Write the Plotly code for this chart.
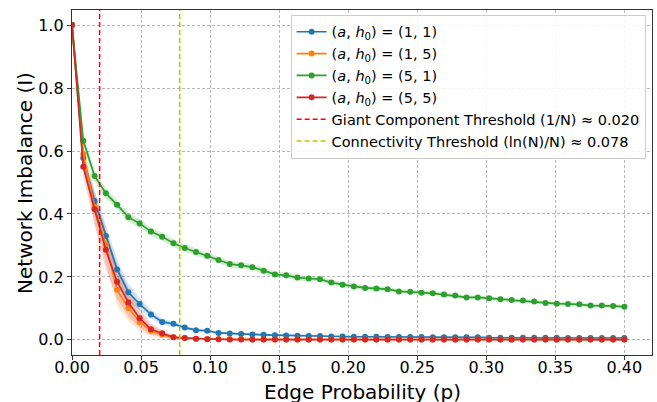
import numpy as np
import plotly.graph_objects as go

p_values = list(np.linspace(0, 0.4, 50))

mean_1_1 = [1.0, 0.578, 0.441, 0.330, 0.224, 0.151, 0.114, 0.081, 0.057, 0.051,
            0.039, 0.031, 0.029, 0.022, 0.020, 0.019, 0.017, 0.016, 0.015, 0.014,
            0.013, 0.012, 0.012, 0.011, 0.011, 0.010, 0.010, 0.010, 0.009, 0.009,
            0.009, 0.009, 0.008, 0.008, 0.008, 0.008, 0.008, 0.007, 0.007, 0.007,
            0.007, 0.007, 0.007, 0.007, 0.006, 0.006, 0.006, 0.006, 0.006, 0.006]
std_1_1 = [0.0, 0.020, 0.032, 0.035, 0.032, 0.027, 0.020, 0.014, 0.010, 0.008,
           0.006, 0.005, 0.005, 0.004, 0.004, 0.004, 0.003, 0.003, 0.003, 0.003,
           0.003, 0.003, 0.003, 0.003, 0.003, 0.003, 0.003, 0.003, 0.003, 0.003,
           0.003, 0.003, 0.003, 0.003, 0.003, 0.003, 0.003, 0.003, 0.003, 0.003,
           0.003, 0.003, 0.003, 0.003, 0.003, 0.003, 0.003, 0.003, 0.003, 0.003]

mean_1_5 = [1.0, 0.590, 0.423, 0.302, 0.159, 0.101, 0.057, 0.029, 0.016, 0.008,
            0.006, 0.004, 0.003, 0.002, 0.002, 0.002, 0.001, 0.001, 0.001, 0.001,
            0.001, 0.001, 0.001, 0.001, 0.001, 0.001, 0.001, 0.001, 0.001, 0.001,
            0.001, 0.001, 0.001, 0.001, 0.001, 0.001, 0.001, 0.001, 0.001, 0.001,
            0.001, 0.001, 0.001, 0.001, 0.001, 0.001, 0.001, 0.001, 0.001, 0.001]
std_1_5 = [0.0, 0.030, 0.050, 0.055, 0.050, 0.040, 0.028, 0.016, 0.010, 0.006,
           0.004, 0.003, 0.002, 0.002, 0.002, 0.001, 0.001, 0.001, 0.001, 0.001,
           0.001, 0.001, 0.001, 0.001, 0.001, 0.001, 0.001, 0.001, 0.001, 0.001,
           0.001, 0.001, 0.001, 0.001, 0.001, 0.001, 0.001, 0.001, 0.001, 0.001,
           0.001, 0.001, 0.001, 0.001, 0.001, 0.001, 0.001, 0.001, 0.001, 0.001]

mean_5_1 = [1.0, 0.633, 0.521, 0.466, 0.429, 0.390, 0.370, 0.344, 0.328, 0.307,
            0.292, 0.279, 0.267, 0.254, 0.241, 0.237, 0.231, 0.220, 0.208, 0.205,
            0.198, 0.195, 0.193, 0.182, 0.175, 0.170, 0.165, 0.163, 0.161, 0.154,
            0.153, 0.150, 0.148, 0.144, 0.141, 0.135, 0.135, 0.132, 0.129, 0.127,
            0.125, 0.122, 0.117, 0.115, 0.114, 0.113, 0.109, 0.109, 0.108, 0.105]
std_5_1 = [0.0, 0.020, 0.018, 0.016, 0.015, 0.015, 0.014, 0.014, 0.013, 0.013,
           0.012, 0.012, 0.011, 0.011, 0.010, 0.010, 0.010, 0.010, 0.009, 0.009,
           0.009, 0.009, 0.009, 0.008, 0.008, 0.008, 0.008, 0.008, 0.007, 0.007,
           0.007, 0.007, 0.007, 0.007, 0.007, 0.006, 0.006, 0.006, 0.006, 0.006,
           0.006, 0.006, 0.006, 0.006, 0.006, 0.006, 0.006, 0.006, 0.006, 0.006]

mean_5_5 = [1.0, 0.550, 0.415, 0.286, 0.185, 0.119, 0.069, 0.034, 0.021, 0.008,
            0.006, 0.004, 0.002, 0.002, 0.001, 0.001, 0.001, 0.001, 0.001, 0.001,
            0.001, 0.001, 0.001, 0.001, 0.001, 0.001, 0.001, 0.001, 0.001, 0.001,
            0.001, 0.001, 0.001, 0.001, 0.001, 0.001, 0.001, 0.001, 0.001, 0.001,
            0.001, 0.001, 0.001, 0.001, 0.001, 0.001, 0.001, 0.001, 0.001, 0.001]
std_5_5 = [0.0, 0.030, 0.050, 0.060, 0.055, 0.045, 0.030, 0.018, 0.010, 0.006,
           0.004, 0.003, 0.002, 0.002, 0.002, 0.001, 0.001, 0.001, 0.001, 0.001,
           0.001, 0.001, 0.001, 0.001, 0.001, 0.001, 0.001, 0.001, 0.001, 0.001,
           0.001, 0.001, 0.001, 0.001, 0.001, 0.001, 0.001, 0.001, 0.001, 0.001,
           0.001, 0.001, 0.001, 0.001, 0.001, 0.001, 0.001, 0.001, 0.001, 0.001]

series_labels = ["(<i>a</i>, <i>h</i><sub>0</sub>) = (1, 1)",
                 "(<i>a</i>, <i>h</i><sub>0</sub>) = (1, 5)",
                 "(<i>a</i>, <i>h</i><sub>0</sub>) = (5, 1)",
                 "(<i>a</i>, <i>h</i><sub>0</sub>) = (5, 5)"]
series_means = [mean_1_1, mean_1_5, mean_5_1, mean_5_5]
series_stds = [std_1_1, std_1_5, std_5_1, std_5_5]
colors = ["#1f77b4", "#ff7f0e", "#2ca02c", "#d62728"]
fill_colors = ["rgba(31,119,180,0.2)", "rgba(255,127,14,0.2)",
               "rgba(44,160,44,0.2)", "rgba(214,39,40,0.2)"]

giant_threshold = 0.020
connect_threshold = 0.078
threshold_labels = ["Giant Component Threshold (1/N) ≈ 0.020",
                    "Connectivity Threshold (ln(N)/N) ≈ 0.078"]
x_title = "Edge Probability (p)"
y_title = "Network Imbalance (I)"
y_range = [-0.048, 1.048]
x_range = [0.0, 0.42]
x_ticks = [0, 0.05, 0.1, 0.15, 0.2, 0.25, 0.3, 0.35, 0.4]
y_ticks = [0, 0.2, 0.4, 0.6, 0.8, 1.0]

fig = go.Figure()

for lab, m, s, c, fc in zip(series_labels, series_means, series_stds, colors, fill_colors):
    m = np.array(m)
    s = np.array(s)
    fig.add_trace(go.Scatter(x=p_values, y=list(m + s), mode="lines",
                             line=dict(width=0, color=fc), showlegend=False,
                             hoverinfo="skip"))
    fig.add_trace(go.Scatter(x=p_values, y=list(m - s), mode="lines",
                             line=dict(width=0, color=fc), fill="tonexty",
                             fillcolor=fc, showlegend=False, hoverinfo="skip"))

for lab, m, c in zip(series_labels, series_means, colors):
    fig.add_trace(go.Scatter(x=p_values, y=m, mode="lines+markers", name=lab,
                             line=dict(color=c, width=1.7),
                             marker=dict(color=c, size=6)))

fig.add_trace(go.Scatter(x=[giant_threshold, giant_threshold], y=y_range, mode="lines",
                         name=threshold_labels[0],
                         line=dict(color="#ff0000", width=1.5, dash="5px,3px")))
fig.add_trace(go.Scatter(x=[connect_threshold, connect_threshold], y=y_range, mode="lines",
                         name=threshold_labels[1],
                         line=dict(color="#bfbf00", width=1.5, dash="5px,3px")))

axis_common = dict(
    showline=True, linecolor="#333333", linewidth=1.3, mirror=True,
    ticks="outside", ticklen=4, tickcolor="#333333",
    showgrid=True, gridcolor="rgba(160,160,160,0.75)", griddash="3px,2px", gridwidth=0.8,
    zeroline=False, automargin=False,
    tickfont=dict(family="DejaVu Sans", size=16, color="black"),
)

fig.update_layout(
    width=657, height=402,
    margin=dict(l=72, r=5, t=10, b=47),
    plot_bgcolor="white", paper_bgcolor="white",
    font=dict(family="DejaVu Sans", color="black"),
    xaxis=dict(range=x_range, tickvals=x_ticks, tickformat=".2f",
               ticklabelstandoff=-6, **axis_common),
    yaxis=dict(range=y_range, tickvals=y_ticks, tickformat=".1f", **axis_common),
    legend=dict(x=0.989, y=0.986, xanchor="right", yanchor="top",
                bgcolor="rgba(255,255,255,0.85)", bordercolor="#cccccc", borderwidth=1,
                font=dict(family="DejaVu Sans", size=14.5), tracegroupgap=0,
                traceorder="normal", itemwidth=30),
    showlegend=True,
    annotations=[
        dict(text=x_title, xref="paper", yref="paper", x=0.5, y=-0.108,
             xanchor="center", yanchor="middle", showarrow=False,
             font=dict(family="DejaVu Sans", size=20, color="black")),
        dict(text=y_title, xref="paper", yref="paper", x=-0.082, y=0.5,
             xanchor="center", yanchor="middle", showarrow=False, textangle=-90,
             font=dict(family="DejaVu Sans", size=20, color="black")),
    ],
)

fig.write_html("out.html", config={"displayModeBar": False},
               post_script="document.body.style.margin='0';document.body.style.padding='0';")
